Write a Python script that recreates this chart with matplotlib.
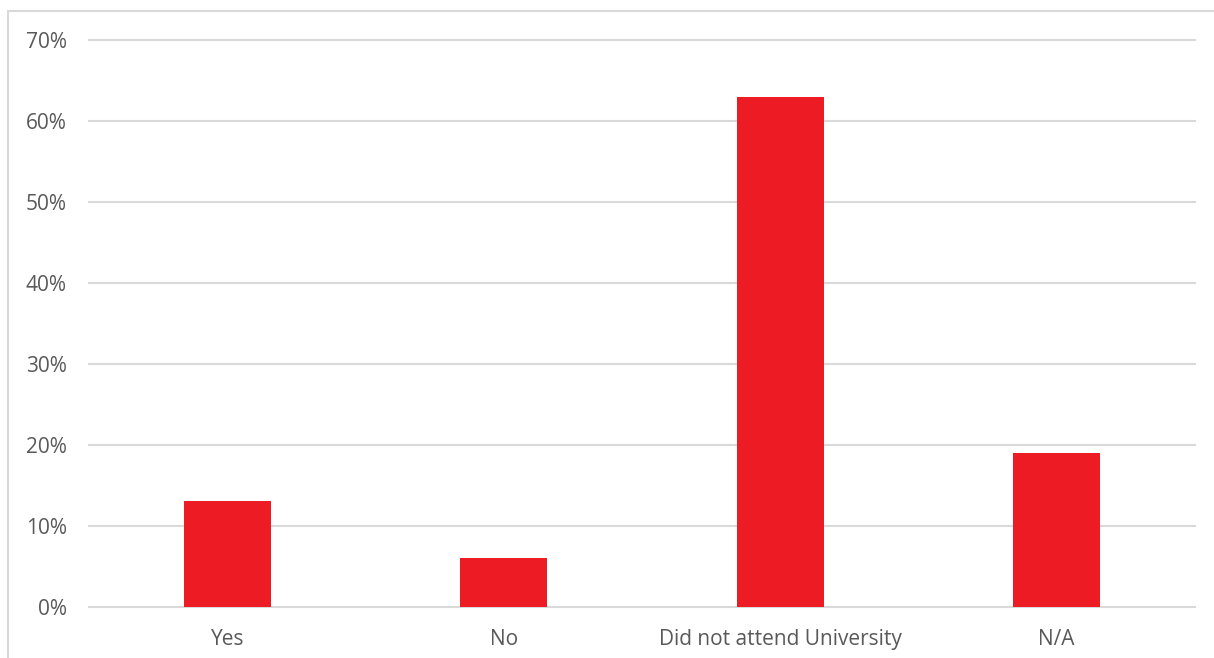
import matplotlib
matplotlib.use("Agg")
from matplotlib import pyplot as plt
from matplotlib.patches import Rectangle
from matplotlib.ticker import PercentFormatter, MultipleLocator

categories = ["Yes", "No", "Did not attend University", "N/A"]
shares = [0.13, 0.06, 0.63, 0.19]

plt.rcParams["font.family"] = ["Open Sans", "DejaVu Sans"]

fig = plt.figure(figsize=(12.14, 6.58), dpi=100)
ax = fig.add_axes([89 / 1214, 1 - 606.7 / 658, (1195 - 89) / 1214, (606.7 - 40) / 658])

# Excel-like outer border, cut off at right and bottom
fig.patches.append(Rectangle((8 / 1214, -0.1), 1.2, 1 - 11 / 658 + 0.1,
                             transform=fig.transFigure, fill=False,
                             edgecolor="#D9D9D9", linewidth=1.5))

x = range(len(categories))
ax.bar(x, shares, width=0.314, color="#ED1C24", zorder=3)

ax.set_xlim(-0.5, len(categories) - 0.5)
ax.set_ylim(0, 0.70)
ax.yaxis.set_major_locator(MultipleLocator(0.10))
ax.yaxis.set_major_formatter(PercentFormatter(1.0, decimals=0))
ax.set_xticks(list(x))
ax.set_xticklabels(categories)

ax.grid(axis="y", color="#D9D9D9", linewidth=1.5, zorder=0)
for line in ax.get_ygridlines():
    line.set_clip_on(False)
for side in ["top", "right", "left", "bottom"]:
    ax.spines[side].set_visible(False)
ax.tick_params(axis="both", length=0, labelsize=15, labelcolor="#595959")
ax.tick_params(axis="y", pad=16)
ax.tick_params(axis="x", pad=16)

fig.savefig("out.png", dpi=100, facecolor="white")
